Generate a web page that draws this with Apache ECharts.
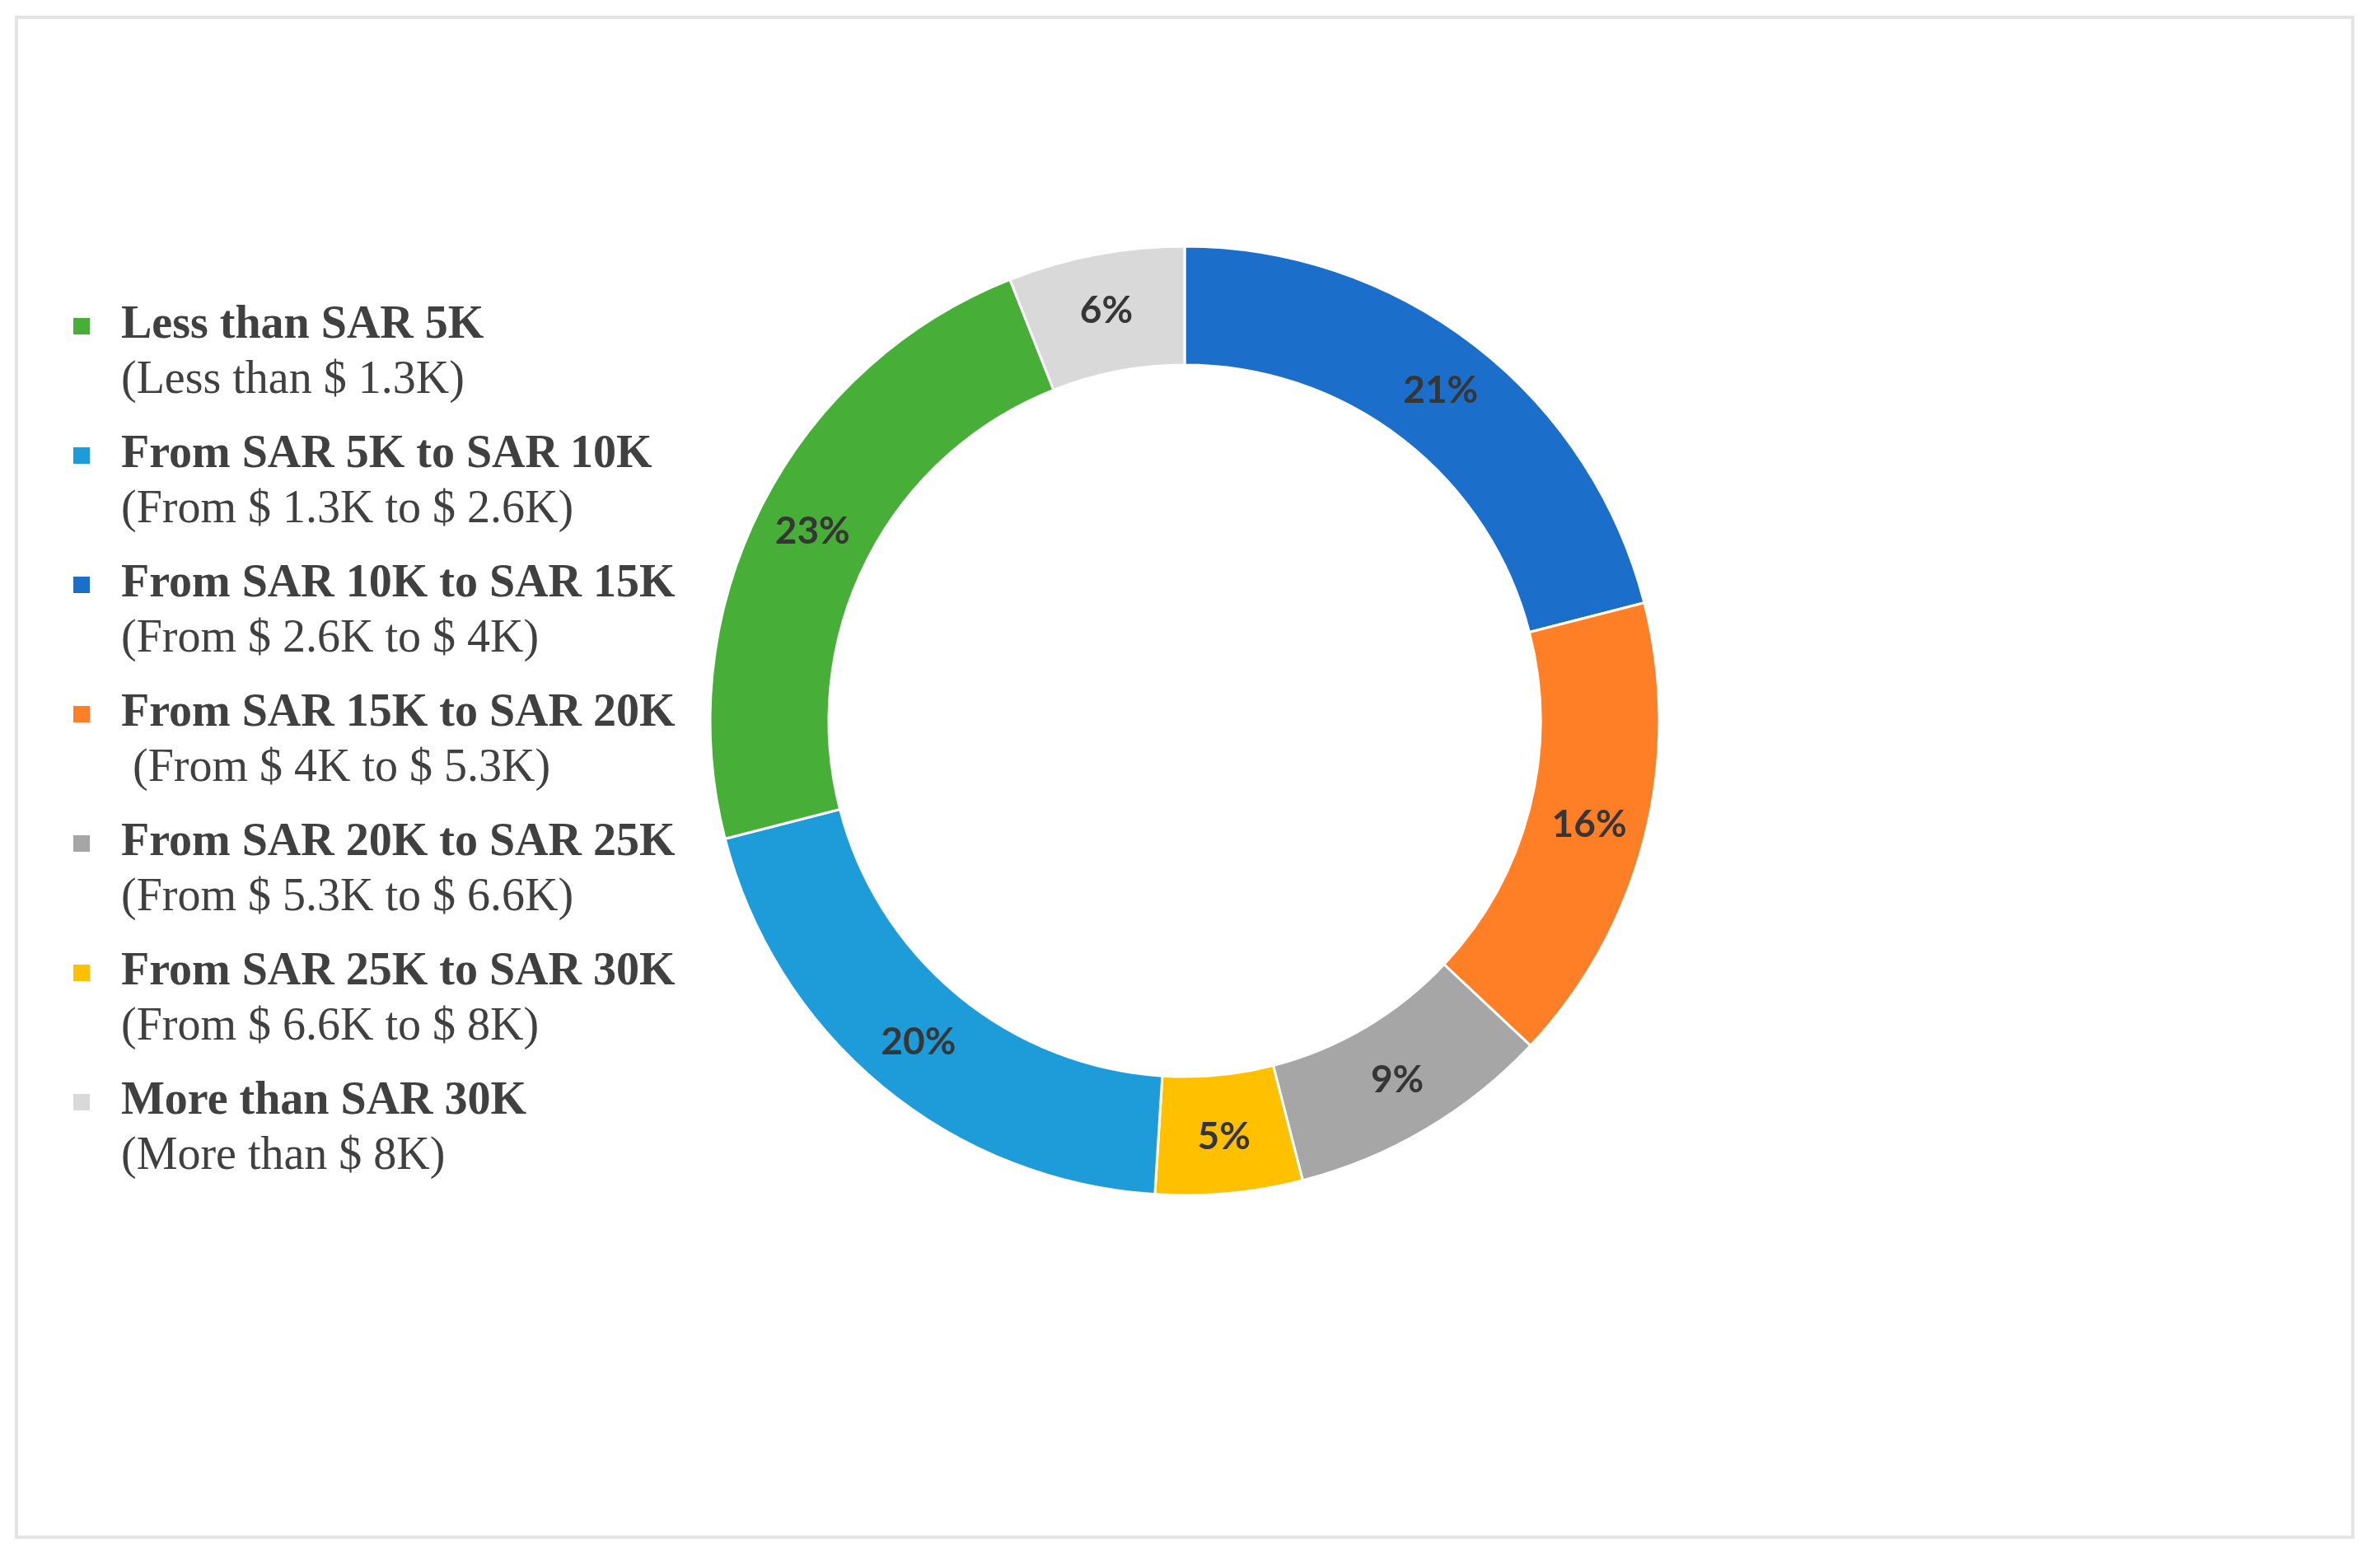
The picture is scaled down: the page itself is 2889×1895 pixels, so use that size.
<!DOCTYPE html>
<html>
<head>
<meta charset="utf-8">
<title>Monthly income</title>
<script src="https://cdn.jsdelivr.net/npm/echarts@6/dist/echarts.min.js"></script>
<style>
    html, body { margin: 0; padding: 0; background: #fff; }
    #frame {
        position: absolute; left: 18px; top: 19px;
        width: 2840px; height: 1849px;
        border: 4px solid #e4e4e4; box-sizing: border-box;
    }
    #content_data { position: absolute; left: 0; top: 0; width: 2889px; height: 1895px; }
</style>
</head>
<body>
<div id="frame"></div>
<div id="content_data"></div>
<script>
// legend order
const categories = [
    'Less than SAR 5K',
    'From SAR 5K to SAR 10K',
    'From SAR 10K to SAR 15K',
    'From SAR 15K to SAR 20K',
    'From SAR 20K to SAR 25K',
    'From SAR 25K to SAR 30K',
    'More than SAR 30K'
];
const usdRanges = [
    '(Less than $ 1.3K)',
    '(From $ 1.3K to $ 2.6K)',
    '(From $ 2.6K to $ 4K)',
    ' (From $ 4K to $ 5.3K)',
    '(From $ 5.3K to $ 6.6K)',
    '(From $ 6.6K to $ 8K)',
    '(More than $ 8K)'
];
const shares = [23, 20, 21, 16, 9, 5, 6];
const colors = ['#47AF37', '#1E9CD9', '#1C6ECB', '#FF7F27', '#A6A6A6', '#FFC000', '#D9D9D9'];
// clockwise from 12 o'clock
const ringOrder = [2, 3, 4, 5, 1, 0, 6];

const Make_Chart = () => {

    let Chart = echarts.init(document.getElementById('content_data'));

    const pieData = ringOrder.map(i => ({
        name: categories[i],
        value: shares[i],
        itemStyle: { color: colors[i] }
    }));

    Chart.setOption({
        animation: false,
        legend: {
            data: categories,
            orient: 'vertical',
            left: 87,
            top: 368,
            padding: 0,
            itemGap: 35,
            itemWidth: 22,
            itemHeight: 22,
            icon: 'rect',
            selectedMode: false,
            formatter: (name) => {
                const i = categories.indexOf(name);
                return `{a|${name}}\n{b|${usdRanges[i]}}`;
            },
            textStyle: {
                padding: [66, 0, 0, 32],
                rich: {
                    a: {
                        fontFamily: 'Liberation Serif',
                        fontWeight: 'bold',
                        fontSize: 56,
                        lineHeight: 66,
                        color: '#404040'
                    },
                    b: {
                        fontFamily: 'Liberation Serif',
                        fontSize: 56,
                        lineHeight: 66,
                        color: '#404040'
                    }
                }
            }
        },
        series: [
            {
                name: 'Income',
                type: 'pie',
                center: [1438, 875],
                radius: [432, 576],
                startAngle: 90,
                clockwise: true,
                avoidLabelOverlap: false,
                itemStyle: {
                    borderColor: '#ffffff',
                    borderWidth: 3
                },
                label: {
                    show: true,
                    position: 'inside',
                    formatter: '{c}%',
                    fontFamily: 'Lato',
                    fontWeight: 'bold',
                    fontSize: 46,
                    color: '#363636'
                },
                labelLine: { show: false },
                emphasis: { disabled: true },
                data: pieData
            }
        ]
    });
};

Make_Chart();
</script>
</body>
</html>
